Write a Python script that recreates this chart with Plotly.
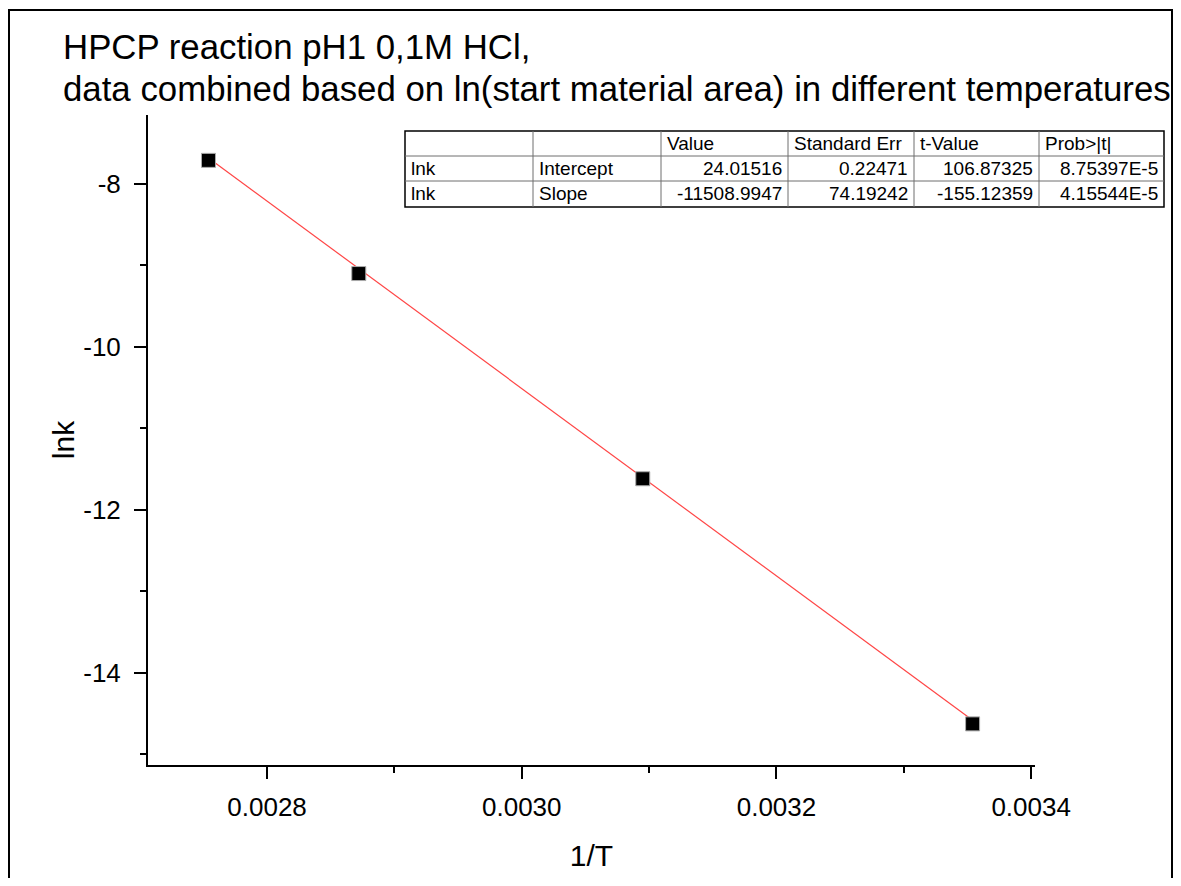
import plotly.graph_objects as go

# ---- data ----
inv_T = [0.002754, 0.002872, 0.003095, 0.003354]
ln_k = [-7.71, -9.10, -11.62, -14.63]

fit_intercept = 24.01516
fit_slope = -11508.9947

table_header = ["", "", "Value", "Standard Err", "t-Value", "Prob>|t|"]
table_dep = ["lnk", "lnk"]
table_param = ["Intercept", "Slope"]
table_value = ["24.01516", "-11508.9947"]
table_stderr = ["0.22471", "74.19242"]
table_tvalue = ["106.87325", "-155.12359"]
table_prob = ["8.75397E-5", "4.15544E-5"]

x_ticks = [0.0028, 0.0030, 0.0032, 0.0034]
x_ticklabels = ["0.0028", "0.0030", "0.0032", "0.0034"]
y_ticks = [-8, -10, -12, -14]
y_ticklabels = ["-8", "-10", "-12", "-14"]

title_lines = ["HPCP reaction pH1 0,1M HCl,",
               "data combined based on ln(start material area) in different temperatures"]

# ---- layout geometry (screen pixels; page body adds an 8px offset) ----
OFF = 8
W, H = 1181 - 2 * OFF, 886 - 2 * OFF
L, R, T, B = 148 - OFF, 1035 - OFF, 115 - OFF, 765 - OFF
PW, PH = R - L, B - T

def px(x):
    return (x - OFF - L) / PW

def py(y):
    return (B - (y - OFF)) / PH

FONT = "Liberation Sans, Arial, sans-serif"

fig = go.Figure()

fit_x = [inv_T[0], inv_T[-1]]
fit_y = [fit_intercept + fit_slope * v for v in fit_x]
fig.add_trace(go.Scatter(x=fit_x, y=fit_y, mode="lines",
                         line=dict(color="rgb(255,70,70)", width=1.2),
                         showlegend=False, hoverinfo="skip"))
fig.add_trace(go.Scatter(x=inv_T, y=ln_k, mode="markers",
                         marker=dict(symbol="square", size=14, color="black",
                                     line=dict(color="rgb(170,170,170)", width=1)),
                         showlegend=False))

axis_common = dict(showline=True, linecolor="black", linewidth=2,
                   ticks="outside", ticklen=12, tickwidth=2, tickcolor="black",
                   showgrid=False, zeroline=False, mirror=False,
                   tickfont=dict(family=FONT, size=26, color="black"))

fig.update_xaxes(range=[0.0027065, 0.003403], tickvals=x_ticks, ticktext=x_ticklabels,
                 ticklabelstandoff=6,
                 minor=dict(ticks="outside", ticklen=6, tickwidth=2, tickcolor="black",
                            dtick=0.0001, tick0=0.0028, showgrid=False),
                 title=dict(text="1/T", font=dict(family=FONT, size=30, color="black"),
                            standoff=24),
                 **axis_common)
fig.update_yaxes(range=[-15.135, -7.153], tickvals=y_ticks, ticktext=y_ticklabels,
                 ticklabelstandoff=8,
                 minor=dict(ticks="outside", ticklen=6, tickwidth=2, tickcolor="black",
                            dtick=1, tick0=-8, showgrid=False),
                 title=dict(text="lnk", font=dict(family=FONT, size=30, color="black"),
                            standoff=0),
                 **axis_common)

shapes = []
annotations = []

# outer frame
shapes.append(dict(type="rect", xref="paper", yref="paper",
                   x0=px(9), x1=px(1172), y0=py(900), y1=py(10),
                   line=dict(color="black", width=2), layer="below"))

# title
for txt, yc in zip(title_lines, [46, 89]):
    annotations.append(dict(text=txt, xref="paper", yref="paper", x=px(61), y=py(yc),
                            xanchor="left", yanchor="middle", showarrow=False,
                            font=dict(family=FONT, size=34.8, color="black")))

# parameter table
col_edges = [405, 533, 661, 788, 914, 1039, 1164]
row_edges = [131, 156, 181, 207]
shapes.append(dict(type="rect", xref="paper", yref="paper",
                   x0=px(col_edges[0]), x1=px(col_edges[-1]),
                   y0=py(row_edges[-1]), y1=py(row_edges[0]),
                   fillcolor="white", line=dict(color="black", width=1.5)))
for c in col_edges[1:-1]:
    shapes.append(dict(type="line", xref="paper", yref="paper",
                       x0=px(c), x1=px(c), y0=py(row_edges[-1]), y1=py(row_edges[0]),
                       line=dict(color="rgb(110,110,110)", width=1)))
for r in row_edges[1:-1]:
    shapes.append(dict(type="line", xref="paper", yref="paper",
                       x0=px(col_edges[0]), x1=px(col_edges[-1]), y0=py(r), y1=py(r),
                       line=dict(color="rgb(110,110,110)", width=1)))

tfont = dict(family=FONT, size=19, color="black")
for j, h in enumerate(table_header):
    if h:
        annotations.append(dict(text=h, xref="paper", yref="paper",
                                x=px(col_edges[j] + 4), y=py((row_edges[0] + row_edges[1]) / 2),
                                xanchor="left", yanchor="middle", showarrow=False, font=tfont))
body_cols = [table_dep, table_param, table_value, table_stderr, table_tvalue, table_prob]
for j, col in enumerate(body_cols):
    for i, v in enumerate(col):
        yc = (row_edges[i + 1] + row_edges[i + 2]) / 2
        if j < 2:
            annotations.append(dict(text=v, xref="paper", yref="paper",
                                    x=px(col_edges[j] + 4), y=py(yc),
                                    xanchor="left", yanchor="middle", showarrow=False, font=tfont))
        else:
            annotations.append(dict(text=v, xref="paper", yref="paper",
                                    x=px(col_edges[j + 1] - 4), y=py(yc),
                                    xanchor="right", yanchor="middle", showarrow=False, font=tfont))

fig.update_layout(width=W, height=H, margin=dict(l=L, r=W - R, t=T, b=H - B),
                  paper_bgcolor="white", plot_bgcolor="white",
                  shapes=shapes, annotations=annotations, showlegend=False)

fig.write_html("out.html")
